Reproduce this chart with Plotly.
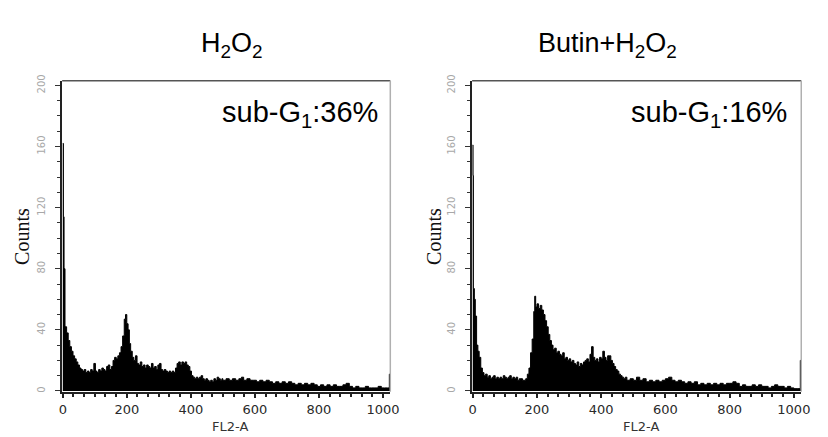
import plotly.graph_objects as go

W, H = 828, 437

# ---------------- data ----------------
h2o2_channel = [0, 2, 4, 7, 12, 17, 22, 27, 32, 37, 42, 47, 52, 57, 62, 67, 72, 77, 82, 87,
                92, 97, 102, 107, 112, 117, 122, 127, 132, 137, 142, 147, 152, 157, 162, 167,
                172, 177, 182, 187, 192, 196, 200, 204, 208, 212, 217, 222, 227, 232, 237, 242,
                247, 252, 257, 262, 267, 272, 277, 282, 287, 292, 297, 302, 307, 312, 317, 322,
                327, 332, 337, 342, 347, 352, 357, 362, 367, 372, 377, 382, 387, 392, 397, 402,
                407, 412, 417, 422, 427, 432, 437, 442, 447, 452, 457, 462, 467, 472, 477, 482,
                487, 492, 497, 500, 510, 520, 530, 540, 550, 558, 565, 575, 585, 595, 605, 615,
                625, 635, 645, 655, 665, 675, 685, 695, 705, 715, 725, 735, 745, 755, 765, 775,
                785, 795, 805, 815, 825, 835, 845, 855, 865, 875, 885, 895, 905, 915, 925, 935,
                945, 955, 965, 975, 985, 995, 1005, 1015, 1020, 1023]
h2o2_counts = [162, 114, 80, 42, 38, 33, 29, 26, 23, 21, 19, 17, 15, 14, 13, 14, 12, 13, 12, 14,
               13, 18, 13, 12, 14, 13, 15, 14, 13, 16, 17, 14, 16, 20, 22, 21,
               23, 25, 29, 36, 47, 50, 44, 40, 31, 26, 22, 20, 23, 18, 17, 19,
               16, 17, 15, 17, 16, 15, 18, 15, 16, 14, 17, 18, 14, 13, 14, 13,
               12, 13, 12, 13, 12, 15, 18, 19, 17, 19, 18, 19, 17, 16, 13, 10,
               9, 8, 9, 8, 9, 10, 8, 7, 8, 7, 6, 7, 6, 8, 7, 9,
               8, 7, 8, 7, 8, 7, 8, 7, 8, 9, 7, 8, 7, 7, 6, 7,
               6, 7, 6, 5, 6, 5, 6, 5, 6, 5, 4, 5, 4, 5, 4, 5,
               4, 3, 4, 3, 4, 3, 4, 3, 3, 4, 5, 3, 2, 3, 2, 2,
               3, 2, 2, 2, 3, 2, 2, 2, 11, 11]

butin_channel = [0, 1, 2, 5, 8, 12, 16, 20, 25, 30, 35, 40, 45, 50, 55, 60, 65, 70, 75, 80,
                 85, 90, 95, 100, 105, 110, 115, 120, 125, 130, 135, 140, 145, 150, 155, 160,
                 165, 170, 175, 180, 185, 190, 193, 196, 200, 205, 210, 215, 220, 225, 230, 235,
                 240, 245, 250, 255, 260, 265, 270, 275, 280, 285, 290, 295, 300, 305, 310, 315,
                 320, 325, 330, 335, 340, 345, 350, 355, 360, 365, 370, 375, 380, 385, 390, 395,
                 400, 405, 410, 415, 420, 425, 430, 435, 440, 445, 450, 455, 460, 465, 470, 475,
                 480, 490, 500, 510, 520, 530, 540, 550, 560, 570, 580, 590, 600, 610, 620, 630,
                 640, 650, 660, 670, 680, 690, 700, 710, 720, 730, 740, 750, 760, 770, 780, 790,
                 800, 810, 820, 830, 840, 850, 860, 870, 880, 890, 900, 910, 920, 930, 940, 950,
                 960, 970, 980, 990, 1000, 1010, 1020, 1023]
butin_counts = [161, 141, 67, 60, 49, 30, 26, 22, 15, 12, 10, 11, 9, 10, 8, 9, 10, 8, 9, 8,
                9, 8, 10, 9, 8, 9, 10, 8, 9, 8, 9, 7, 8, 8, 7, 7,
                8, 11, 15, 25, 34, 52, 62, 55, 57, 54, 56, 53, 50, 46, 42, 37,
                33, 30, 27, 28, 25, 26, 24, 23, 25, 21, 22, 20, 21, 19, 20, 18,
                17, 19, 16, 18, 17, 19, 20, 21, 19, 24, 29, 22, 20, 21, 19, 22,
                21, 26, 22, 20, 23, 23, 20, 18, 16, 14, 13, 11, 10, 9, 8, 9,
                7, 8, 7, 9, 7, 8, 6, 7, 6, 7, 6, 7, 8, 9, 7, 6,
                7, 6, 5, 6, 5, 6, 4, 5, 4, 5, 4, 5, 4, 5, 4, 5,
                5, 6, 5, 3, 4, 3, 3, 4, 3, 4, 3, 3, 2, 3, 4, 3,
                3, 2, 3, 2, 1.5, 1.5, 20, 20]

panel_titles = ["H<sub>2</sub>O<sub>2</sub>", "Butin+H<sub>2</sub>O<sub>2</sub>"]
subg1_labels = ["sub-G<sub>1</sub>:36%", "sub-G<sub>1</sub>:16%"]
x_tick_vals = [0, 200, 400, 600, 800, 1000]
y_tick_vals = [0, 40, 80, 120, 160, 200]
x_title = "FL2-A"
y_title = "Counts"

# ---------------- layout helpers (pixel -> paper) ----------------
def px(x):
    return x / W

def py(y):
    return 1 - y / H

panels = [
    dict(x0=60, x1=393, title_x=232, counts_x=20, sub_right=383),
    dict(x0=476, x1=810, title_x=613, counts_x=438, sub_right=798),
]
top_px, bottom_px = 76, 392

fig = go.Figure()
series = [(h2o2_channel, h2o2_counts), (butin_channel, butin_counts)]

annotations = []
shapes = []
for i, (p, (xs, ys)) in enumerate(zip(panels, series)):
    ax = "" if i == 0 else str(i + 1)
    fig.add_trace(go.Scatter(
        x=xs, y=ys, mode="lines",
        line=dict(shape="hv", width=1, color="black"),
        fill="tozeroy", fillcolor="black",
        xaxis="x" + ax, yaxis="y" + ax, showlegend=False, hoverinfo="skip",
    ))
    xaxis = dict(
        domain=[px(p["x0"]), px(p["x1"])], range=[-2, 1023], anchor="y" + ax,
        showgrid=False, zeroline=False, showline=True, linecolor="#222", linewidth=1.5,
        tickmode="array", tickvals=x_tick_vals, ticks="outside", ticklen=5,
        tickcolor="#222", tickwidth=1.5,
        tickfont=dict(family="DejaVu Sans", size=13, color="#2a2a2a"),
        minor=dict(tick0=0, dtick=200 / 6, ticks="outside", ticklen=4,
                   tickcolor="#222", tickwidth=1.5),
        fixedrange=True,
    )
    yaxis = dict(
        domain=[py(bottom_px), py(top_px)], range=[-0.5, 203], anchor="x" + ax,
        showgrid=False, zeroline=False, showline=True, linecolor="#222", linewidth=1.5,
        tickmode="array", tickvals=y_tick_vals, ticks="outside", ticklen=5,
        tickcolor="#333", tickwidth=1, tickangle=-90,
        tickfont=dict(family="DejaVu Sans", size=10, color="#a8a8a8"),
        ticklabelstandoff=6,
        minor=dict(tick0=0, dtick=10, ticks="outside", ticklen=3,
                   tickcolor="#333", tickwidth=1),
        fixedrange=True,
    )
    fig.update_layout(**{"xaxis" + ax: xaxis, "yaxis" + ax: yaxis})

    # top and right frame lines (lighter grey)
    shapes.append(dict(type="line", xref="paper", yref="paper",
                       x0=px(p["x0"]), x1=px(p["x1"]), y0=py(top_px), y1=py(top_px),
                       line=dict(color="#555", width=1.5)))
    shapes.append(dict(type="line", xref="paper", yref="paper",
                       x0=px(p["x1"]), x1=px(p["x1"]), y0=py(top_px), y1=py(bottom_px),
                       line=dict(color="#b0b0b0", width=1.5)))

    annotations.append(dict(
        text=panel_titles[i], xref="paper", yref="paper",
        x=px(p["title_x"]), y=py(40), xanchor="center", yanchor="middle",
        showarrow=False, font=dict(family="Liberation Sans", size=27, color="black")))
    annotations.append(dict(
        text=subg1_labels[i], xref="paper", yref="paper",
        x=px(p["sub_right"]), y=py(110), xanchor="right", yanchor="middle",
        showarrow=False, font=dict(family="Liberation Sans", size=29, color="black")))
    annotations.append(dict(
        text=x_title, xref="paper", yref="paper",
        x=px((p["x0"] + p["x1"]) / 2 + 4), y=py(427), xanchor="center", yanchor="middle",
        showarrow=False, font=dict(family="DejaVu Sans", size=13, color="#333")))
    annotations.append(dict(
        text=y_title, xref="paper", yref="paper", textangle=-90,
        x=px(p["counts_x"]), y=py(234), xanchor="center", yanchor="middle",
        showarrow=False, font=dict(family="Liberation Serif", size=20, color="#111")))

fig.update_layout(
    width=W, height=H, margin=dict(l=0, r=0, t=0, b=0),
    paper_bgcolor="white", plot_bgcolor="white",
    annotations=annotations, shapes=shapes, showlegend=False,
)

fig.write_html(
    "out.html",
    config={"displayModeBar": False},
    post_script="document.body.style.margin='0';document.body.style.padding='0';"
                "document.body.style.overflow='hidden';",
)
